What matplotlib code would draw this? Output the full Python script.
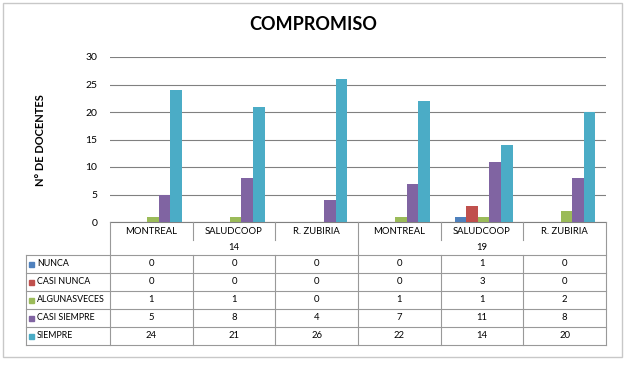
import numpy as np
import matplotlib
matplotlib.use("Agg")
import matplotlib.pyplot as plt
from matplotlib.patches import Rectangle

plt.rcParams['font.family'] = ['Lato', 'DejaVu Sans']

# data
categories = ['MONTREAL', 'SALUDCOOP', 'R. ZUBIRIA', 'MONTREAL', 'SALUDCOOP', 'R. ZUBIRIA']
groups = ['14', '19']
series = ['NUNCA', 'CASI NUNCA', 'ALGUNASVECES', 'CASI SIEMPRE', 'SIEMPRE']
nunca = [0, 0, 0, 0, 1, 0]
casi_nunca = [0, 0, 0, 0, 3, 0]
algunas = [1, 1, 0, 1, 1, 2]
casi_siempre = [5, 8, 4, 7, 11, 8]
siempre = [24, 21, 26, 22, 14, 20]
values = [nunca, casi_nunca, algunas, casi_siempre, siempre]
colors = ['#4F81BD', '#C0504D', '#9BBB59', '#8064A2', '#4BACC6']

W, H = 627, 366
fig = plt.figure(figsize=(W / 100, H / 100), dpi=100)

# plot area in pixels
px0, px1 = 110, 606
py_top, py_bot = 57, 222
ax = fig.add_axes([px0 / W, 1 - py_bot / H, (px1 - px0) / W, (py_bot - py_top) / H])

n = len(categories)
x = np.arange(n)
bw = 0.14
for i, (vals, c) in enumerate(zip(values, colors)):
    ax.bar(x + (i - 2) * bw + 0.02, vals, width=bw, color=c, zorder=3)

ax.set_xlim(-0.5, n - 0.5)
ax.set_ylim(0, 30)
ax.set_yticks(range(0, 31, 5))
ax.tick_params(axis='y', labelsize=7.5, length=0, pad=9)
ax.set_xticks([])
ax.yaxis.grid(True, color='#808080', linewidth=0.8, zorder=0)
for s in ['top', 'right', 'left']:
    ax.spines[s].set_visible(False)
ax.spines['bottom'].set_color('#808080')

# overlay for table, title and border (pixel coordinates)
ov = fig.add_axes([0, 0, 1, 1], facecolor='none')
ov.set_xlim(0, W)
ov.set_ylim(H, 0)
ov.axis('off')

lc = '#999999'
ov.add_patch(Rectangle((3, 3), 619, 354, fill=False, edgecolor='#c8c8c8', linewidth=1))

ov.text(313, 25, 'COMPROMISO', ha='center', va='center', fontsize=13, fontweight='bold')
ov.text(40, 140, 'N° DE DOCENTES', ha='center', va='center', rotation=90,
        fontsize=8, fontweight='bold')

cw = (px1 - px0) / n
row_cat = (222, 240)
row_h = 18
tbl_left = 26
tbl_top = 255
tbl_bot = tbl_top + row_h * len(series)

# category row
for j, cat in enumerate(categories):
    ov.text(px0 + cw * (j + 0.5), 231, cat, ha='center', va='center', fontsize=6.8)
for j in range(1, n):
    y_end = tbl_bot if j == 3 else row_cat[1]
    ov.plot([px0 + cw * j] * 2, [222, y_end], color=lc, lw=0.8)
    if j != 3:
        ov.plot([px0 + cw * j] * 2, [tbl_top, tbl_bot], color=lc, lw=0.8)
ov.plot([px0, px0], [222, tbl_bot], color=lc, lw=0.8)
ov.plot([px1, px1], [222, tbl_bot], color=lc, lw=0.8)

# group row
for g, grp in enumerate(groups):
    ov.text(px0 + cw * (3 * g + 1.5), 248, grp, ha='center', va='center', fontsize=6.8)

# data rows
ov.plot([tbl_left, tbl_left], [tbl_top, tbl_bot], color=lc, lw=0.8)
for r in range(len(series) + 1):
    yy = tbl_top + r * row_h
    ov.plot([tbl_left, px1], [yy, yy], color=lc, lw=0.8)
for r, (name, vals, c) in enumerate(zip(series, values, colors)):
    yc = tbl_top + r * row_h + row_h / 2
    ov.add_patch(Rectangle((29, yc - 2.5), 5, 5, color=c))
    ov.text(37, yc, name, ha='left', va='center', fontsize=6.4)
    for j, v in enumerate(vals):
        ov.text(px0 + cw * (j + 0.5), yc, str(v), ha='center', va='center', fontsize=6.8)

fig.savefig('out.png', dpi=100)
